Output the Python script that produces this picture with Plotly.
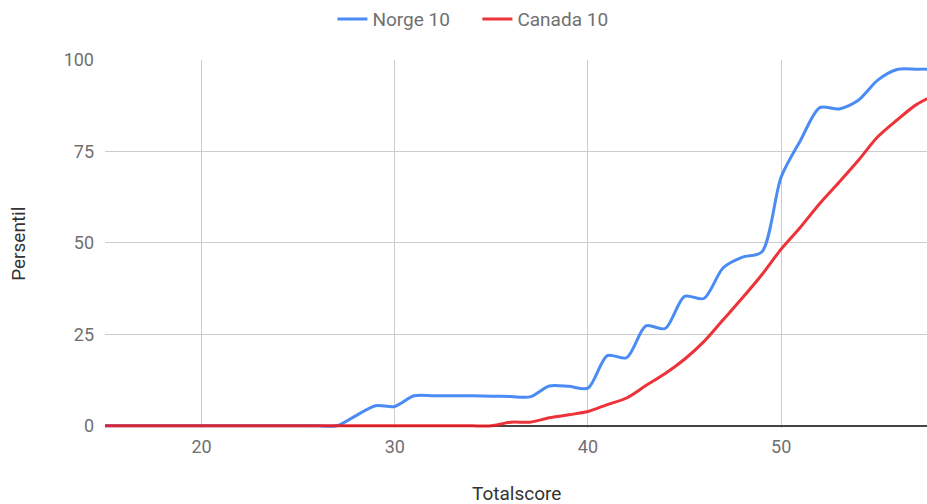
import plotly.graph_objects as go

# Totalscore values (x) and percentile curves for the two groups
scores = list(range(15, 59))

norge_10 = [0, 0, 0, 0, 0, 0, 0, 0, 0, 0, 0, 0, 0,          # 15-27
            2.8, 5.5, 5.3, 8.2, 8.2, 8.2, 8.2, 8.1, 8.0,   # 28-36
            7.9, 10.9, 10.8, 10.3, 19.2, 18.6, 27.3, 26.6,  # 37-44
            35.4, 34.8, 43.2, 46.1, 47.5, 68.0, 78.0, 87.0, # 45-52
            86.6, 89.0, 94.5, 97.4, 97.5, 97.5]             # 53-58

canada_10 = [0] * 21 + [                                     # 15-35
             1.0, 1.0, 2.2, 3.0, 3.9, 5.8, 7.6, 11.0,        # 36-43
             14.3, 18.2, 23.0, 29.0, 35.0, 41.3, 48.3,       # 44-50
             54.3, 60.8, 66.6, 72.6, 79.0, 83.6, 87.8, 90.5] # 51-58

y_ticks = [0, 25, 50, 75, 100]
x_ticks = [20, 30, 40, 50]

BLUE = "#4285f4"
RED = "#ec1c24"
FONT = "Roboto, Arial, sans-serif"
LABEL_GREY = "#707070"

fig = go.Figure()
fig.add_trace(go.Scatter(x=scores, y=norge_10, name="Norge 10", mode="lines",
                         opacity=0.95,
                         line=dict(color=BLUE, width=3, shape="spline", smoothing=0.8)))
fig.add_trace(go.Scatter(x=scores, y=canada_10, name="Canada 10", mode="lines",
                         opacity=0.9,
                         line=dict(color=RED, width=3, shape="spline", smoothing=0.8)))

fig.update_layout(
    width=927, height=504,
    margin=dict(l=105, r=0, t=60, b=76),
    paper_bgcolor="white", plot_bgcolor="white",
    font=dict(family=FONT, size=18, color=LABEL_GREY),
    showlegend=True,
    legend=dict(orientation="h", xref="container", yref="container",
                x=0.515, y=0.962, xanchor="center", yanchor="middle",
                font=dict(size=19, color=LABEL_GREY),
                entrywidth=100, entrywidthmode="pixels",
                traceorder="normal"),
    xaxis=dict(range=[15, 57.55], tickvals=x_ticks, showgrid=True,
               gridcolor="#cccccc", gridwidth=1, zeroline=False,
               showline=False, ticks="", ticklabelstandoff=6,
               tickfont=dict(size=18, color=LABEL_GREY)),
    yaxis=dict(range=[-0.6, 100], tickvals=y_ticks, showgrid=True,
               gridcolor="#cccccc", gridwidth=1, zeroline=True,
               zerolinecolor="#444444", zerolinewidth=2,
               showline=False, ticks="", ticklabelstandoff=10,
               tickfont=dict(size=18, color=LABEL_GREY)),
    annotations=[
        dict(text="Totalscore", xref="paper", yref="paper", x=0.5, y=-0.178,
             xanchor="center", yanchor="middle", showarrow=False,
             font=dict(size=19, color="#333333")),
        dict(text="Persentil", xref="paper", yref="paper", x=-0.106, y=0.5,
             xanchor="center", yanchor="middle", showarrow=False, textangle=-90,
             font=dict(size=19, color="#333333")),
    ],
)

fig.write_html("out.html")
